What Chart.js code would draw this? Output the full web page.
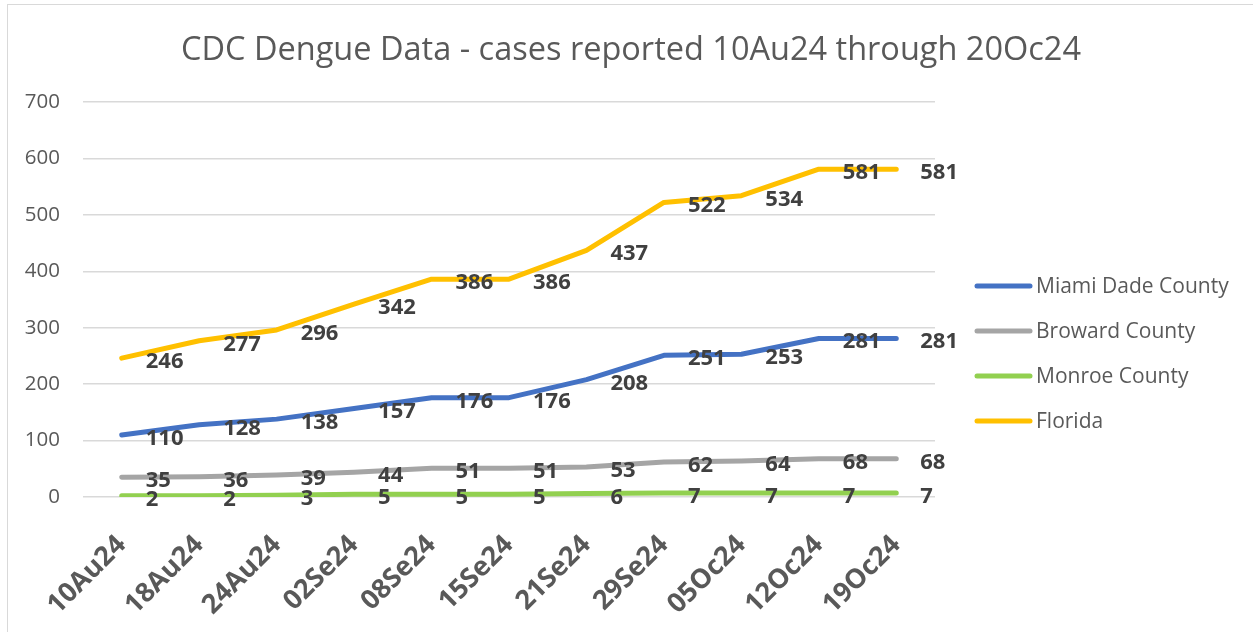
<!DOCTYPE html>
<html>
<head>
<meta charset="utf-8">
<script src="https://cdn.jsdelivr.net/npm/chart.js@4.4.1/dist/chart.umd.min.js"></script>
<style>
  html, body { margin: 0; padding: 0; background: #fff; overflow: hidden; }
  #wrap { position: relative; width: 1253px; height: 632px; }
  #frame { position: absolute; left: 7px; top: 4px; width: 1300px; height: 700px;
           border: 1px solid #d9d9d9; pointer-events: none; }
</style>
</head>
<body>
<div id="wrap">
  <canvas id="dengueChart" width="1253" height="632"></canvas>
  <div id="frame"></div>
</div>
<script>
var weeks = ['10Au24', '18Au24', '24Au24', '02Se24', '08Se24', '15Se24',
             '21Se24', '29Se24', '05Oc24', '12Oc24', '19Oc24'];

var miamiDade = [110, 128, 138, 157, 176, 176, 208, 251, 253, 281, 281];
var broward   = [35, 36, 39, 44, 51, 51, 53, 62, 64, 68, 68];
var monroe    = [2, 2, 3, 5, 5, 5, 6, 7, 7, 7, 7];
var florida   = [246, 277, 296, 342, 386, 386, 437, 522, 534, 581, 581];

var seriesNames = ['Miami Dade County', 'Broward County', 'Monroe County', 'Florida'];
var seriesColors = ['#4472C4', '#A5A5A5', '#92D050', '#FFC000'];
var chartTitle = 'CDC Dengue Data - cases reported 10Au24 through 20Oc24';

var font = '"Open Sans", "Noto Sans", sans-serif';

// title centred on the whole frame, not only on the plot
var frameTitle = {
    id: 'frameTitle',
    afterDraw(chart) {
        const ctx = chart.ctx;
        ctx.save();
        ctx.font = '32.5px ' + font;
        ctx.fillStyle = '#595959';
        ctx.textAlign = 'center';
        ctx.textBaseline = 'alphabetic';
        ctx.fillText(chartTitle, 631, 60);
        ctx.restore();
    }
};

// value labels to the right of every point
var valueLabels = {
    id: 'valueLabels',
    afterDatasetsDraw(chart) {
        const ctx = chart.ctx;
        ctx.save();
        ctx.font = 'bold 22px ' + font;
        ctx.fillStyle = '#404040';
        ctx.textAlign = 'left';
        ctx.textBaseline = 'alphabetic';
        chart.data.datasets.forEach((ds, i) => {
            const meta = chart.getDatasetMeta(i);
            meta.data.forEach((pt, j) => {
                ctx.fillText(String(ds.data[j]), pt.x + 24, pt.y + 10);
            });
        });
        ctx.restore();
    }
};

// legend on the right, drawn by hand so it sits where Excel put it
var sideLegend = {
    id: 'sideLegend',
    afterDraw(chart) {
        const ctx = chart.ctx;
        ctx.save();
        ctx.font = '21px ' + font;
        ctx.textAlign = 'left';
        ctx.textBaseline = 'middle';
        seriesNames.forEach((name, i) => {
            const y = 286 + i * 45;
            ctx.strokeStyle = seriesColors[i];
            ctx.lineWidth = 5;
            ctx.lineCap = 'round';
            ctx.beginPath();
            ctx.moveTo(977, y);
            ctx.lineTo(1030, y);
            ctx.stroke();
            ctx.fillStyle = '#595959';
            ctx.fillText(name, 1036, y + 1);
        });
        ctx.restore();
    }
};

var seriesData = [miamiDade, broward, monroe, florida];
var datasets = seriesData.map((values, i) => ({
    label: seriesNames[i],
    data: values,
    borderColor: seriesColors[i],
    backgroundColor: seriesColors[i],
    borderWidth: 5,
    borderCapStyle: 'round',
    borderJoinStyle: 'round',
    pointRadius: 0,
    fill: false,
    tension: 0
}));

new Chart(document.getElementById('dengueChart'), {
    type: 'line',
    data: { labels: weeks, datasets: datasets },
    options: {
        responsive: false,
        animation: false,
        layout: { padding: { left: 0, right: 318, top: 102, bottom: 0 } },
        scales: {
            x: {
                offset: true,
                grid: { display: false },
                border: { display: false },
                ticks: {
                    minRotation: 45,
                    maxRotation: 45,
                    autoSkip: false,
                    padding: 24,
                    color: '#595959',
                    font: { family: font, size: 27, weight: 'bold' }
                },
                afterFit(scale) { scale.height = 135; }
            },
            y: {
                min: 0,
                max: 700,
                grid: { color: '#d9d9d9', lineWidth: 1.5, drawTicks: false },
                border: { display: false },
                ticks: {
                    stepSize: 100,
                    padding: 23,
                    color: '#595959',
                    font: { family: font, size: 20.5 }
                },
                afterFit(scale) { scale.width = 83; }
            }
        },
        plugins: {
            legend: { display: false },
            tooltip: { enabled: false },
            title: { display: false }
        }
    },
    plugins: [frameTitle, valueLabels, sideLegend]
});
</script>
</body>
</html>
